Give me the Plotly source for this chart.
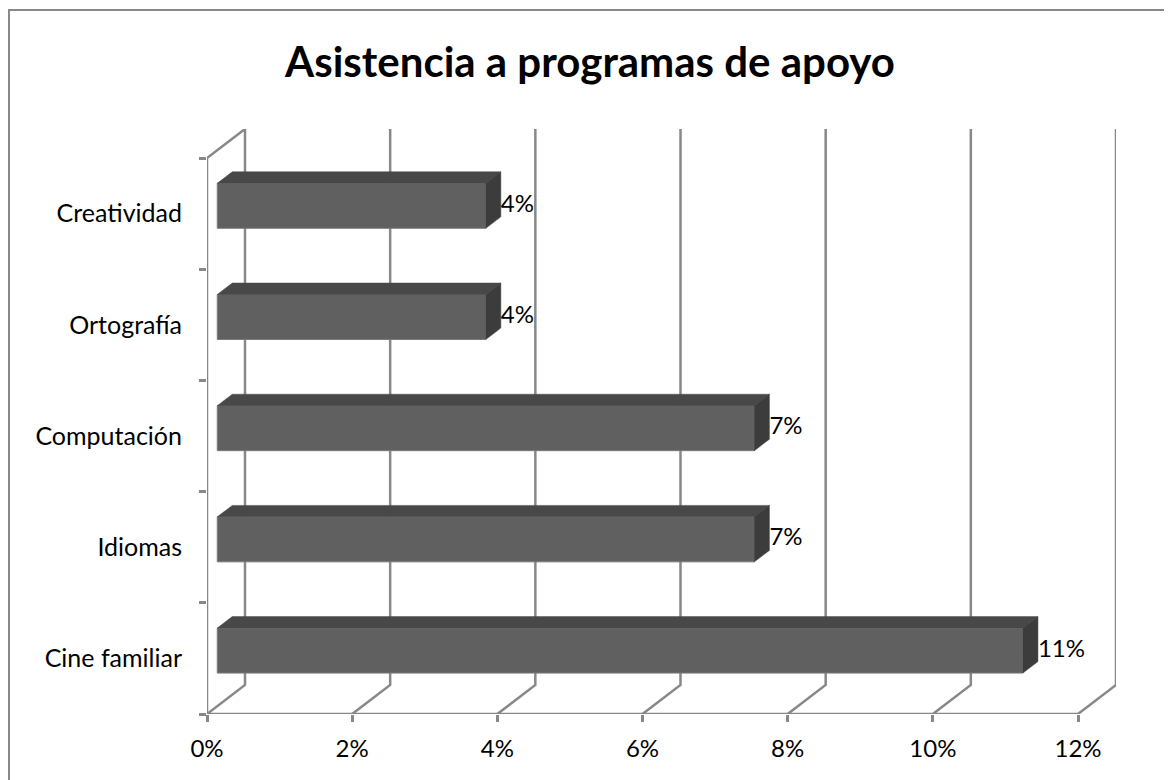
import plotly.graph_objects as go

# data, bottom to top as in the chart
categorias = ["Cine familiar", "Idiomas", "Computación", "Ortografía", "Creatividad"]
porcentajes = [11.1, 7.4, 7.4, 3.7, 3.7]
x_ticks = [0, 2, 4, 6, 8, 10, 12]

# fake 3D: depth offset of the back wall, in axis units
DX = 0.5236
DY = 0.2608
d0, d1 = 0.27, 0.665   # bar front / back depth
h = 0.2023             # half height of a bar

GRIS = "#888888"
FONT = "Lato"

fig = go.Figure()

# walls and floor
gx, gy = [], []
for t in x_ticks:
    gx += [t, t + DX, t + DX, None]
    gy += [-0.5, -0.5 + DY, 4.5 + DY, None]
gx += [0, 12, None, 0, 0, DX, None]
gy += [-0.5, -0.5, None, -0.5, 4.5, 4.5 + DY, None]
fig.add_trace(go.Scatter(x=gx, y=gy, mode="lines", line=dict(color=GRIS, width=2.5),
                         hoverinfo="skip", showlegend=False))

# bars: front, top, side
for i, v in enumerate(porcentajes):
    c = i
    x0, x1 = d0 * DX, v + d0 * DX
    yb, yt = c + d0 * DY - h, c + d0 * DY + h
    fig.add_trace(go.Scatter(
        x=[x0, x1, x1, x0, x0], y=[yb, yb, yt, yt, yb], fill="toself",
        fillcolor="#606060", mode="lines", line=dict(color="#7a7a7a", width=1),
        hoverinfo="skip", showlegend=False))
    fig.add_trace(go.Scatter(
        x=[x0, x1, v + d1 * DX, d1 * DX, x0],
        y=[yt, yt, c + d1 * DY + h, c + d1 * DY + h, yt], fill="toself",
        fillcolor="#484848", mode="lines", line=dict(color="#484848", width=0.5),
        hoverinfo="skip", showlegend=False))
    fig.add_trace(go.Scatter(
        x=[x1, x1, v + d1 * DX, v + d1 * DX, x1],
        y=[yb, yt, c + d1 * DY + h, c + d1 * DY - h, yb], fill="toself",
        fillcolor="#3c3c3c", mode="lines", line=dict(color="#3c3c3c", width=0.5),
        hoverinfo="skip", showlegend=False))

# value labels
fig.add_trace(go.Scatter(
    x=[v + d1 * DX for v in porcentajes],
    y=[i + d0 * DY for i in range(len(porcentajes))],
    text=[f"{v:.0f}%" for v in porcentajes], mode="text", textposition="middle right",
    textfont=dict(family=FONT, size=24, color="black"), hoverinfo="skip", showlegend=False))

fig.update_layout(
    width=1164, height=772,
    margin=dict(l=199, r=56, t=121, b=66),
    paper_bgcolor="white", plot_bgcolor="white",
    title=dict(text="<b>Asistencia a programas de apoyo</b>", x=0.5, xanchor="center",
               y=1 - 54 / 772, yanchor="middle", yref="container",
               font=dict(family=FONT, size=42, color="black")),
    xaxis=dict(range=[0, 12 + DX], tickvals=x_ticks, ticktext=[f"{t}%" for t in x_ticks],
               ticks="outside", ticklen=7, tickwidth=2.5, tickcolor=GRIS,
               showgrid=False, zeroline=False, showline=False,
               tickfont=dict(family=FONT, size=24, color="black"), ticklabelstandoff=6),
    yaxis=dict(range=[-0.5, 4.5 + DY], tickvals=list(range(len(categorias))), ticktext=categorias,
               ticks="", showgrid=False, zeroline=False, showline=False,
               tickfont=dict(family=FONT, size=25, color="black"), ticklabelstandoff=24,
               minor=dict(tickvals=[-0.5, 0.5, 1.5, 2.5, 3.5, 4.5], ticks="outside",
                          ticklen=7, tickwidth=2.5, tickcolor=GRIS, showgrid=False)),
    shapes=[dict(type="rect", xref="paper", yref="paper",
                 x0=(1 - 199) / 909, x1=(1190 - 199) / 909,
                 y0=(706 - 800) / 585, y1=(706 - 2) / 585,
                 line=dict(color=GRIS, width=2), layer="below")],
)

fig.write_html("out.html")
